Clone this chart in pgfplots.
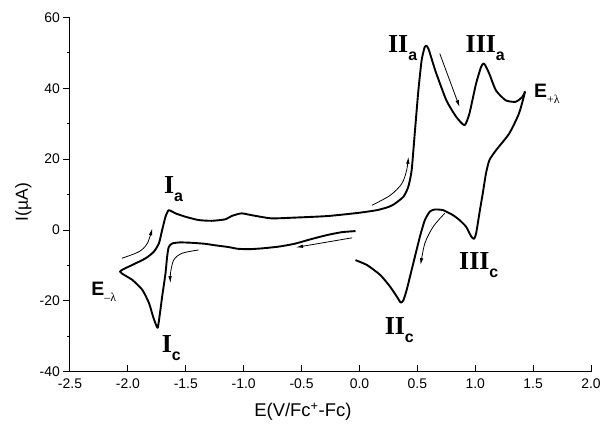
\documentclass[border=0pt]{standalone}
\usepackage{fontspec}
\setmainfont{Liberation Sans}
\newfontfamily\tnr{Liberation Serif}
\usepackage{pgfplots}
\pgfplotsset{compat=1.18}
\usetikzlibrary{arrows.meta}

% peak labels: roman numeral in serif, subscript in sans
\newcommand{\pk}[2]{{\fontsize{26}{26}\selectfont\tnr\bfseries #1}\raisebox{-8bp}{\fontsize{16}{16}\selectfont\bfseries #2}}
\newcommand{\ep}[1]{{\fontsize{19.5}{19.5}\selectfont\bfseries E}\raisebox{-6bp}{\fontsize{12}{12}\selectfont\tnr #1}}

\begin{document}
\begin{tikzpicture}
\begin{axis}[
  name=ax,
  scale only axis,
  width=521bp, height=354.2bp,
  xmin=-2.5, xmax=2.0, ymin=-40, ymax=60,
  axis lines=left,
  axis line style={-, line width=1bp},
  xtick={-2.5,-2,-1.5,-1,-0.5,0,0.5,1,1.5,2},
  ytick={-40,-20,0,20,40,60},
  minor ytick={-30,-10,10,30,50},
  xtick align=inside, ytick align=outside,
  major tick length=6.7bp, minor tick length=3.3bp,
  every tick/.style={black, line width=1bp},
  /pgf/number format/assume math mode=true,
  tick label style={font=\fontsize{14}{14}\selectfont},
  xticklabel style={yshift=-4bp, /pgf/number format/.cd, fixed, fixed zerofill, precision=1},
  xlabel={E(V/Fc\textsuperscript{+}-Fc)},
  ylabel={I(µA)},
  xlabel style={font=\fontsize{18.5}{18.5}\selectfont, at={(axis description cs:0.447,-0.113)}, anchor=center},
  ylabel style={font=\fontsize{17.5}{17.5}\selectfont, at={(axis description cs:-0.0894,0.479)}, anchor=center},
  clip=false,
]
% cyclic voltammogram, in scan order
\addplot[black, line width=1.9bp, smooth, tension=0.35, line join=round] coordinates {
(-0.034,-0.3) (-0.15,-0.6) (-0.277,-1.4) (-0.42,-2.6) (-0.562,-3.9) (-0.70,-4.7)
(-0.848,-5.2) (-0.95,-5.4) (-1.05,-5.3) (-1.133,-4.8) (-1.25,-4.3) (-1.332,-3.9)
(-1.45,-3.6) (-1.55,-3.5) (-1.618,-3.8) (-1.647,-4.8) (-1.661,-7.5) (-1.675,-12.2)
(-1.704,-18.8) (-1.725,-24.0) (-1.742,-27.6) (-1.760,-26.5) (-1.783,-24.4)
(-1.818,-20.6) (-1.875,-16.9) (-1.961,-14.1) (-2.068,-11.75)
(-1.961,-9.86) (-1.846,-7.97) (-1.775,-6.1) (-1.732,-3.75) (-1.704,0) (-1.675,3.75)
(-1.647,5.6) (-1.589,4.7) (-1.503,3.75) (-1.390,2.82) (-1.276,2.6) (-1.161,3.0)
(-1.10,4.0) (-1.019,4.7) (-0.933,4.2) (-0.762,3.3) (-0.562,3.5) (-0.277,3.94)
(-0.02,4.8) (0.15,5.6) (0.25,6.5) (0.30,7.3) (0.38,9.4) (0.422,12.2) (0.451,16.9)
(0.480,28.2) (0.509,39.4) (0.537,47.9) (0.563,51.6) (0.580,52) (0.598,51.0)
(0.637,46.9) (0.665,44.1) (0.751,36.6) (0.837,31.9) (0.908,29.6) (0.950,32.9)
(1.007,41.3) (1.050,46.0) (1.070,47) (1.085,46.6) (1.122,44.1) (1.179,39.4)
(1.264,36.6) (1.350,36.2) (1.407,37.6) (1.430,39.0)
(1.378,32.9) (1.293,27.2) (1.179,22.5) (1.122,19.7) (1.093,16.0) (1.065,10.3)
(1.036,4.7) (1.008,-0.94) (0.990,-2.5) (0.965,-1.8) (0.922,0.9) (0.865,2.8)
(0.808,4.2) (0.723,5.6) (0.651,5.8) (0.608,5.2) (0.565,2.8) (0.522,-1.9)
(0.465,-9.4) (0.408,-16.9) (0.380,-19.8) (0.357,-20.5) (0.323,-18.8) (0.265,-16.0)
(0.180,-12.7) (0.066,-9.9) (-0.034,-8.5)
};
% scan direction arrows
\pgfplotsset{arr/.style={black, line width=0.8bp, smooth, -{Latex[length=7bp,width=3.5bp]}, forget plot}}
\addplot[arr] coordinates {(-2.052,-7.97) (-1.903,-6.1) (-1.832,-3.75) (-1.789,0.47)};
\addplot[arr] coordinates {(-1.390,-5.63) (-1.532,-6.57) (-1.604,-8.45) (-1.632,-12.2) (-1.632,-15.0)};
\addplot[arr] coordinates {(-0.063,-2.2) (-0.548,-4.9)};
\addplot[arr] coordinates {(0.109,7.0) (0.266,9.8) (0.366,13.1) (0.408,16.9) (0.423,20.7)};
\addplot[arr] coordinates {(0.694,49.8) (0.865,34.7)};
\addplot[arr] coordinates {(0.736,4.7) (0.637,0.94) (0.565,-3.75) (0.528,-9.9)};
% peak labels
\node[anchor=base west, inner sep=0] at (axis cs:-1.689,10.34) {\pk{I}{a}};
\node[anchor=base west, inner sep=0] at (axis cs:-1.709,-34.7) {\pk{I}{c}};
\node[anchor=base west, inner sep=0] at (axis cs:0.246,50.2) {\pk{II}{a}};
\node[anchor=base west, inner sep=0] at (axis cs:0.916,50.2) {\pk{III}{a}};
\node[anchor=base west, inner sep=0] at (axis cs:0.860,-11.1) {\pk{III}{c}};
\node[anchor=base west, inner sep=0] at (axis cs:0.217,-29.4) {\pk{II}{c}};
\node[anchor=base west, inner sep=0] at (axis cs:1.507,37.5) {\ep{+λ}};
\node[anchor=base west, inner sep=0] at (axis cs:-2.317,-18.5) {\ep{–λ}};
\end{axis}
\pgfresetboundingbox
\path[use as bounding box] ([shift={(-70bp,-52.3bp)}]ax.south west) rectangle ([shift={(12bp,17.5bp)}]ax.north east);
\end{tikzpicture}
\end{document}
